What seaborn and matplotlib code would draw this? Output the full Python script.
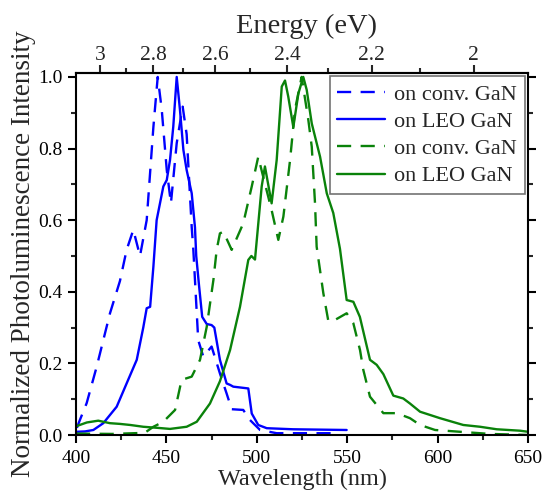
import numpy as np
import pandas as pd
import matplotlib
matplotlib.use("Agg")
import matplotlib.pyplot as plt
from matplotlib.ticker import MultipleLocator, FixedLocator
import seaborn as sns

# ---- data ----
blue_conv_wl = [400.5, 402, 405.9, 411.4, 418.8, 424.3, 428, 431.7, 435.4, 439.1, 442.8, 445.2,
                447.4, 450.2, 452.5, 455.7, 459, 461.2, 464, 464.9, 467.6, 470.4, 475, 479.6,
                483.3, 486.1, 492.5, 496.2, 501.8, 511, 545]
blue_conv_I = [0.02, 0.04, 0.089, 0.19, 0.34, 0.43, 0.517, 0.573, 0.50, 0.60, 0.86, 1.0,
               0.91, 0.74, 0.647, 0.815, 0.917, 0.84, 0.58, 0.517, 0.265, 0.219, 0.247, 0.172,
               0.116, 0.072, 0.07, 0.042, 0.014, 0.005, 0.005]

blue_leo_wl = [400.4, 405, 409.6, 415.1, 422.5, 428, 433.6, 437.2, 439.1, 441, 442.8, 444.6,
               448.3, 450.2, 452, 453.8, 455.7, 457.5, 459.4, 461.2, 464, 465.8, 466.5, 468,
               469.8, 472.3, 475, 476.5, 479.6, 483.3, 485.2, 487, 495.3, 497.2, 500.8, 505.5,
               520, 549.7]
blue_leo_I = [0.009, 0.01, 0.014, 0.033, 0.079, 0.144, 0.21, 0.30, 0.354, 0.358, 0.47, 0.60,
              0.694, 0.712, 0.768, 0.861, 1.0, 0.908, 0.796, 0.74, 0.675, 0.58, 0.50, 0.42,
              0.33, 0.31, 0.307, 0.30, 0.21, 0.144, 0.14, 0.135, 0.13, 0.06, 0.028, 0.019,
              0.016, 0.014]

green_conv_wl = [400, 420, 438, 442.8, 448.3, 454.8, 458.4, 464, 468.6, 472.3, 476, 477.8,
                 479.6, 481.5, 486.1, 492.5, 497.2, 500.8, 503.6, 508.2, 511.9, 514.7, 518.4,
                 521.1, 524.8, 528.5, 530.4, 532.2, 533.1, 536.8, 539.5, 541.4, 549.7, 553.4,
                 557.1, 558.9, 562.6, 570, 577.4, 584.7, 590.3, 598.6, 612.4, 629, 650]
green_conv_I = [0.004, 0.003, 0.006, 0.023, 0.037, 0.07, 0.154, 0.163, 0.21, 0.302, 0.433, 0.517,
                0.563, 0.568, 0.517, 0.591, 0.694, 0.777, 0.72, 0.628, 0.545, 0.61, 0.768,
                0.908, 1.0, 0.88, 0.805, 0.647, 0.526, 0.396, 0.32, 0.316, 0.34, 0.312,
                0.237, 0.182, 0.107, 0.061, 0.061, 0.047, 0.028, 0.014, 0.009, 0.003, 0.0]

green_leo_wl = [400.4, 406, 412.3, 418.8, 424.3, 430, 437.2, 445, 452, 461.2, 466.8, 474.1,
                479.6, 485.2, 490.7, 495.3, 497, 499, 502.7, 504.5, 508.2, 511, 513.8, 515.6,
                517.4, 520.2, 523, 525.7, 527.6, 530.4, 535, 538.7, 542.3, 546, 549.7, 553.4,
                557, 562.6, 566.3, 570, 575.5, 581, 584.7, 590.3, 601.3, 614.2, 623.5, 632.7,
                645.6, 650]
green_leo_I = [0.025, 0.035, 0.04, 0.033, 0.031, 0.028, 0.023, 0.02, 0.017, 0.023, 0.037, 0.088,
               0.15, 0.237, 0.358, 0.489, 0.50, 0.49, 0.694, 0.75, 0.647, 0.768, 0.973, 0.99,
               0.945, 0.86, 0.954, 1.0, 0.964, 0.87, 0.777, 0.675, 0.62, 0.52, 0.377, 0.372,
               0.33, 0.21, 0.196, 0.17, 0.11, 0.102, 0.088, 0.065, 0.047, 0.028, 0.023, 0.016,
               0.012, 0.009]

labels = ["on conv. GaN", "on LEO GaN", "on conv. GaN", "on LEO GaN"]
energy_ticks = [3.0, 2.8, 2.6, 2.4, 2.2, 2.0]
energy_labels = ["3", "2.8", "2.6", "2.4", "2.2", "2"]
energy_minor = [2.9, 2.7, 2.5, 2.3, 2.1]

# ---- style ----
sns.set_style("ticks")
plt.rcParams["font.family"] = ["Liberation Serif", "DejaVu Serif"]

fig = plt.figure(figsize=(5.44, 4.93), dpi=100)
ax = fig.add_axes([76 / 544, 1 - 435 / 493, (528 - 76) / 544, (435 - 73) / 493])

blue = "#0000ff"
green = "#0a820a"
lw = 1.7
dash = (6, 4)

series = [
    (blue_conv_wl, blue_conv_I, blue, True),
    (blue_leo_wl, blue_leo_I, blue, False),
    (green_conv_wl, green_conv_I, green, True),
    (green_leo_wl, green_leo_I, green, False),
]
for (wl, inten, col, dashed), lab in zip(series, labels):
    df = pd.DataFrame({"wl": wl, "I": inten})
    sns.lineplot(data=df, x="wl", y="I", ax=ax, color=col, lw=lw,
                 estimator=None, sort=False, label=lab)
    if dashed:
        ax.lines[-1].set_dashes(dash)

ax.set_xlim(400, 650)
ax.set_ylim(0, 1.011)
ax.set_xlabel("Wavelength (nm)", fontsize=17.5, labelpad=1)
ax.set_ylabel("Normalized Photoluminescence Intensity", fontsize=19.5, labelpad=2)
ax.xaxis.set_major_locator(MultipleLocator(50))
ax.xaxis.set_minor_locator(MultipleLocator(25))
ax.yaxis.set_major_locator(MultipleLocator(0.2))
ax.yaxis.set_minor_locator(MultipleLocator(0.1))
ax.yaxis.set_major_formatter(matplotlib.ticker.FormatStrFormatter("%.1f"))
ax.tick_params(which="major", direction="out", length=6, width=1.5, labelsize=14,
               colors="black", right=True, top=False)
ax.tick_params(axis="x", which="major", pad=5)
ax.tick_params(which="minor", direction="out", length=3.5, width=1.5, right=True, top=False)
ax.tick_params(axis="y", which="both", labelright=False)
for sp in ax.spines.values():
    sp.set_visible(True)
    sp.set_linewidth(1.5)
    sp.set_color("black")


def w2e(x):
    x = np.asarray(x, dtype=float)
    with np.errstate(divide="ignore", invalid="ignore"):
        return np.where(x != 0, 1240.0 / x, np.inf)


secax = ax.secondary_xaxis("top", functions=(w2e, w2e))
secax.xaxis.set_major_locator(FixedLocator(energy_ticks))
secax.set_xticklabels(energy_labels)
secax.xaxis.set_minor_locator(FixedLocator(energy_minor))
secax.tick_params(which="major", direction="out", length=6, width=1.5, labelsize=15.5, pad=0)
secax.tick_params(which="minor", direction="out", length=3.5, width=1.5)
secax.spines["top"].set_linewidth(1.5)
fig.text(306 / 544, 1 - 33 / 493, "Energy (eV)", fontsize=20.5,
         ha="center", va="baseline")

leg = ax.legend(loc="upper right", fontsize=16, frameon=True, fancybox=False,
                handlelength=2.15, handletextpad=0.4, borderpad=0.35, labelspacing=0.3,
                borderaxespad=0.15, edgecolor="0.45", framealpha=1)
leg.get_frame().set_linewidth(1.2)

fig.savefig("out.png", dpi=100)
